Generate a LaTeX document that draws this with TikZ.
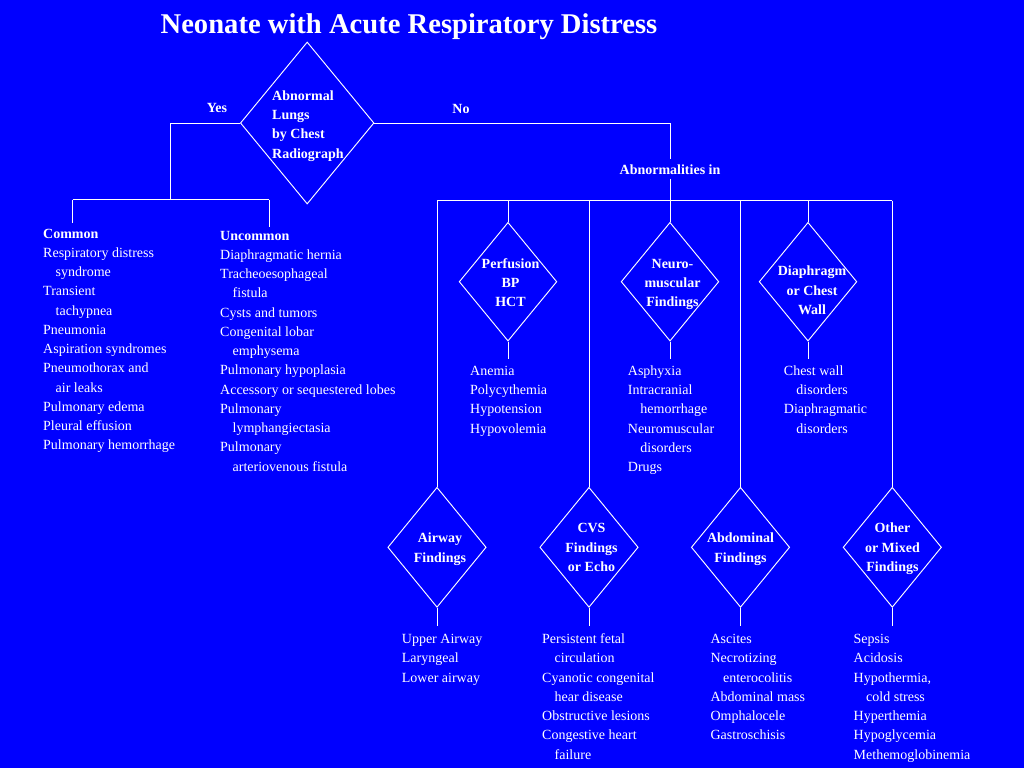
\documentclass[tikz,border=0pt]{standalone}
\usepackage{fontspec}
\setmainfont{Liberation Serif}
\usetikzlibrary{shapes.geometric}
\definecolor{bg}{RGB}{0,0,255}
\newcommand\indnt{\hspace*{12.5pt}}
\begin{document}
\begin{tikzpicture}[x=1pt,y=-1pt,
  ln/.style={draw=white,line width=0.95pt},
  dia/.style={shape=diamond,draw=white,line width=0.95pt,inner sep=0pt},
  updia/.style={dia,minimum width=97.7pt,minimum height=118.7pt},
  lodia/.style={dia,minimum width=98.4pt,minimum height=120pt},
  lst/.style={anchor=north west,inner sep=0pt,align=left,text=white,yshift=-1.2pt,font=\fontsize{14}{19.25}\selectfont},
  dtxt/.style={anchor=north,inner sep=0pt,align=center,text=white,yshift=-1.5pt,font=\fontsize{14}{19.25}\selectfont\bfseries},
  lbl/.style={anchor=base,inner sep=0pt,text=white,font=\fontsize{14}{17}\selectfont\bfseries}]
\useasboundingbox (0,0) rectangle (1024,768);
\fill[bg] (0,0) rectangle (1024,768);

% title
\node[anchor=base,inner sep=0pt,text=white,font=\fontsize{28.6}{34}\selectfont\bfseries] (title) at (409,33.5) {Neonate with Acute Respiratory Distress};

% top decision
\node[dia,minimum width=133.6pt,minimum height=162pt] (top) at (307.2,123) {};
\node[lst,font=\fontsize{14}{19.25}\selectfont\bfseries] (toptxt) at (272,85.5) {\strut Abnormal\\Lungs\\by Chest\\Radiograph};
\node[lbl] (yes) at (217,112) {Yes};
\node[lbl] (no) at (461,113) {No};

% yes branch
\coordinate (yb) at (170.7,199.7);
\coordinate (cl) at (72.7,199.7);
\coordinate (cr) at (269,199.7);
\coordinate (clend) at (72.7,223);
\coordinate (crend) at (269,226.7);
\draw[ln] (top.west) -| (yb);
\draw[ln] (cl) -- (cr);
\draw[ln] (cl) -- (clend);
\draw[ln] (cr) -- (crend);

\node[lst] (common) at (43,223.2) {\strut\textbf{Common}\\Respiratory distress\\\indnt syndrome\\Transient\\\indnt tachypnea\\Pneumonia\\Aspiration syndromes\\Pneumothorax and\\\indnt air leaks\\Pulmonary edema\\Pleural effusion\\Pulmonary hemorrhage};
\node[lst] (uncommon) at (220,225.2) {\strut\textbf{Uncommon}\\Diaphragmatic hernia\\Tracheoesophageal\\\indnt fistula\\Cysts and tumors\\Congenital lobar\\\indnt emphysema\\Pulmonary hypoplasia\\Accessory or sequestered lobes\\Pulmonary\\\indnt lymphangiectasia\\Pulmonary\\\indnt arteriovenous fistula};

% no branch
\node[lbl,text height=10pt,text depth=0pt,inner ysep=4.5pt] (abn) at (670,174) {Abnormalities in};
\coordinate (b1) at (437,200.7);
\coordinate (b2) at (508,200.7);
\coordinate (b3) at (589,200.7);
\coordinate (b4) at (670,200.7);
\coordinate (b5) at (740.5,200.7);
\coordinate (b6) at (808,200.7);
\coordinate (b7) at (892.3,200.7);
\draw[ln] (top.east) -| (abn.north);
\draw[ln] (abn.south) -- (b4);
\draw[ln] (b1) -- (b7);

% upper diamonds
\node[updia] (perf) at (508,281.7) {};
\node[updia] (neuro) at (670,281.7) {};
\node[updia] (diaph) at (808,281.7) {};
\node[dtxt] (perft) at (510.5,253.2) {\strut Perfusion\\BP\\HCT};
\node[dtxt] (neurot) at (672.5,253.2) {\strut Neuro-\\muscular\\Findings};
\node[dtxt] (diapht) at (812,260.8) {\strut Diaphragm\\or Chest\\Wall};
\draw[ln] (b2) -- (perf.north);
\draw[ln] (b4) -- (neuro.north);
\draw[ln] (b6) -- (diaph.north);
\draw[ln] (perf.south) -- ++(0,17);
\draw[ln] (neuro.south) -- ++(0,17);
\draw[ln] (diaph.south) -- ++(0,17);
\node[lst] (perfl) at (470,360.5) {\strut Anemia\\Polycythemia\\Hypotension\\Hypovolemia};
\node[lst] (neurol) at (627.7,360.5) {\strut Asphyxia\\Intracranial\\\indnt hemorrhage\\Neuromuscular\\\indnt disorders\\Drugs};
\node[lst] (diaphl) at (783.7,360.5) {\strut Chest wall\\\indnt disorders\\Diaphragmatic\\\indnt disorders};

% lower diamonds
\node[lodia] (air) at (437,547.3) {};
\node[lodia] (cvs) at (589,547.3) {};
\node[lodia] (abd) at (740.5,547.3) {};
\node[lodia] (oth) at (892.3,547.3) {};
\node[dtxt] (airt) at (440,527.8) {\strut Airway\\Findings};
\node[dtxt] (cvst) at (591.5,517.8) {\strut CVS\\Findings\\or Echo};
\node[dtxt] (abdt) at (740.5,527.8) {\strut Abdominal\\Findings};
\node[dtxt] (otht) at (892.4,517.8) {\strut Other\\or Mixed\\Findings};
\draw[ln] (b1) -- (air.north);
\draw[ln] (b3) -- (cvs.north);
\draw[ln] (b5) -- (abd.north);
\draw[ln] (b7) -- (oth.north);
\draw[ln] (air.south) -- ++(0,18);
\draw[ln] (cvs.south) -- ++(0,18);
\draw[ln] (abd.south) -- ++(0,18);
\draw[ln] (oth.south) -- ++(0,18);
\node[lst] (airl) at (401.7,628.8) {\strut Upper Airway\\Laryngeal\\Lower airway};
\node[lst] (cvsl) at (542,628.8) {\strut Persistent fetal\\\indnt circulation\\Cyanotic congenital\\\indnt hear disease\\Obstructive lesions\\Congestive heart\\\indnt failure};
\node[lst] (abdl) at (710.4,628.8) {\strut Ascites\\Necrotizing\\\indnt enterocolitis\\Abdominal mass\\Omphalocele\\Gastroschisis};
\node[lst] (othl) at (853.5,628.8) {\strut Sepsis\\Acidosis\\Hypothermia,\\\indnt cold stress\\Hyperthemia\\Hypoglycemia\\Methemoglobinemia};
\end{tikzpicture}
\end{document}
